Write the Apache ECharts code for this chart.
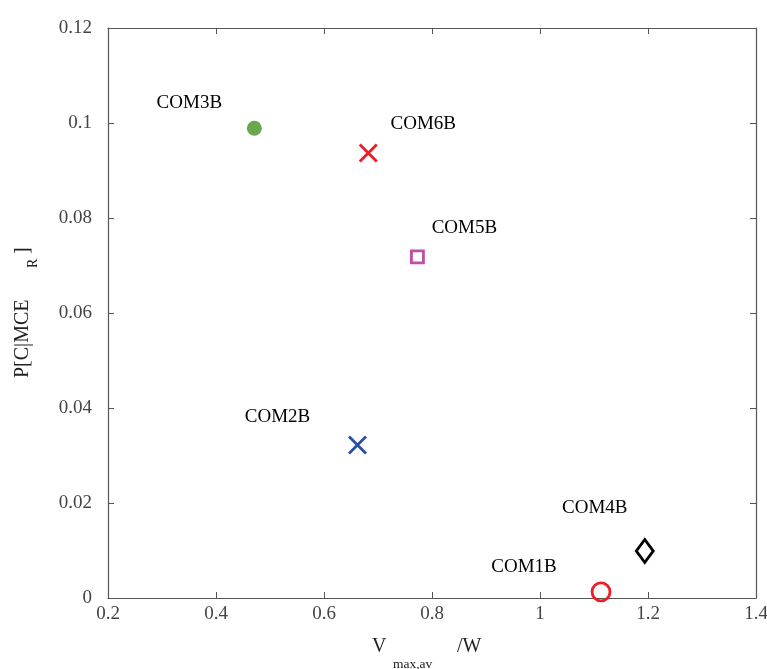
<!DOCTYPE html>
<html><head><meta charset="utf-8">
<script src="https://cdn.jsdelivr.net/npm/echarts@6/dist/echarts.min.js"></script>
<style>html,body{margin:0;padding:0;background:#fff}#c{width:767px;height:669px}</style>
</head><body><div id="c"></div>
<script>
const names = ['COM1B','COM2B','COM3B','COM4B','COM5B','COM6B'];
const xVals = [1.113, 0.662, 0.471, 1.194, 0.773, 0.682];
const yVals = [0.0013, 0.0322, 0.0989, 0.0099, 0.0718, 0.0937];
const xTicks = {min:0.2, max:1.4, interval:0.2};
const yTicks = {min:0, max:0.12, interval:0.02};
const xTitle = ['V', 'max,av', '/W'];
const yTitle = ['P[C|MCE', 'R', ']'];

const styles = {
  COM1B:{symbol:'circle', size:18, fill:'none', stroke:'#ee1c25', bw:2.8, off:[-77,-25]},
  COM2B:{symbol:'path://M0,0L10,10M10,0L0,10', size:17, fill:'none', stroke:'#2b4fa2', bw:2.8, off:[-80,-28]},
  COM3B:{symbol:'circle', size:15, fill:'#6aa84f', stroke:'#6aa84f', bw:0, off:[-65,-25]},
  COM4B:{symbol:'diamond', size:[17,23], fill:'none', stroke:'#000', bw:2.8, off:[-50,-43]},
  COM5B:{symbol:'rect', size:12, fill:'none', stroke:'#c04ea6', bw:2.8, off:[47,-29]},
  COM6B:{symbol:'path://M0,0L10,10M10,0L0,10', size:17, fill:'none', stroke:'#ee1c25', bw:2.8, off:[55,-29]}
};
const FONT = 'Liberation Serif';
const axisCol = '#555';

const series = names.map((n,i)=>{
  const s = styles[n];
  return {
    type:'scatter', name:n, xAxisIndex:0, yAxisIndex:0,
    data:[[xVals[i], yVals[i]]],
    symbol:s.symbol, symbolSize:s.size,
    itemStyle:{color:s.fill, borderColor:s.stroke, borderWidth:s.bw, opacity:1},
    label:{show:true, position:'inside', offset:s.off, formatter:n,
      fontFamily:FONT, fontSize:19, color:'#000'},
    emphasis:{disabled:true}, silent:true
  };
});

const baseAxis = (t)=>({min:t.min, max:t.max, interval:t.interval,
  axisLine:{show:true, onZero:false, lineStyle:{color:axisCol, width:1.2}},
  axisTick:{show:true, inside:true, length:6, lineStyle:{color:axisCol}},
  splitLine:{show:false}});

function txt(text, x, y, size, rot){
  return {type:'text', x:x, y:y, rotation:rot||0, silent:true,
    style:{text:text, font:size+'px "'+FONT+'"', fill:'#222',
      align:'left', verticalAlign:'middle', textAlign:'left', textVerticalAlign:'middle'}};
}

const option = {
  animation:false,
  grid:{left:108, right:11, top:28, bottom:71, outerBoundsMode:'none', containLabel:false},
  xAxis:[
    Object.assign(baseAxis(xTicks), {type:'value', position:'bottom',
      axisLabel:{fontFamily:FONT, fontSize:19, color:'#444', margin:7,
        formatter:v=>String(+v.toFixed(2))}}),
    Object.assign(baseAxis(xTicks), {type:'value', position:'top', axisLabel:{show:false}})
  ],
  yAxis:[
    Object.assign(baseAxis(yTicks), {type:'value', position:'left',
      axisLabel:{fontFamily:FONT, fontSize:19, color:'#444', margin:16,
        formatter:v=>String(+v.toFixed(2))}}),
    Object.assign(baseAxis(yTicks), {type:'value', position:'right', axisLabel:{show:false}})
  ],
  graphic:[
    txt(xTitle[0], 372, 647, 20),
    txt(xTitle[1], 393, 664, 13.5),
    txt(xTitle[2], 457, 647, 20),
    txt(yTitle[0], 23, 378, 20, Math.PI/2),
    txt(yTitle[1], 33, 268, 14, Math.PI/2),
    txt(yTitle[2], 23, 254, 20, Math.PI/2)
  ],
  series
};
echarts.init(document.getElementById('c')).setOption(option);
</script></body></html>
